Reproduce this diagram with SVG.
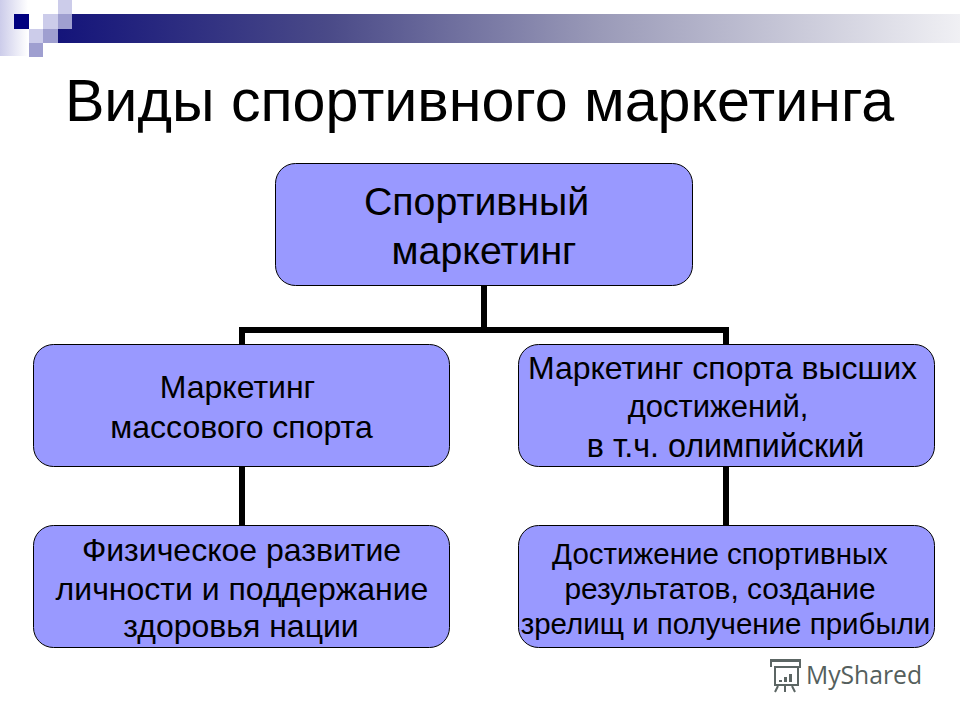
<svg xmlns="http://www.w3.org/2000/svg" width="960" height="720" viewBox="0 0 960 720">
<style>
text{font-family:"Liberation Sans",Arial,sans-serif;fill:#000;text-anchor:middle}
.box{fill:#9999ff;stroke:#000;stroke-width:1}
.line{fill:none;stroke:#000;stroke-width:6}
.l{font-size:39.3px}
.t{font-size:32px}
.m{font-size:29.5px}
.logo{fill:none;stroke:#5c6664;stroke-width:2}
</style>
<defs>
<linearGradient id="bar"><stop offset="0" stop-color="#14147a"/><stop offset=".3" stop-color="#4a4a88"/><stop offset=".6" stop-color="#9a9ab8"/><stop offset="1" stop-color="#f0f0f4"/></linearGradient>
<linearGradient id="side"><stop offset="0" stop-color="#ccccea"/><stop offset="1" stop-color="#fff"/></linearGradient>
</defs>
<rect width="960" height="720" fill="#fff"/>
<g id="decor">
<rect x="58" y="14" width="902" height="29" fill="url(#bar)"/>
<rect x="0" y="0" width="28" height="56" fill="url(#side)"/>
<rect x="14" y="14" width="15" height="15" fill="#00007f"/>
<rect x="29" y="14" width="14" height="15" fill="#fff"/>
<rect x="58" y="0" width="14" height="14" fill="#ccccea"/>
<rect x="43" y="14" width="15" height="15" fill="#ccccea"/>
<rect x="58" y="14" width="14" height="15" fill="#9f9fd0"/>
<rect x="29" y="29" width="14" height="14" fill="#ccccea"/>
<rect x="43" y="29" width="15" height="14" fill="#9f9fd0"/>
<rect x="29" y="43" width="14" height="14" fill="#9f9fd0"/>
</g>
<text id="title" x="479.500" y="121" font-size="59.200">Виды спортивного маркетинга</text>
<g id="connectors">
<path class="line" d="M484 285V330M242 345V330H726V345"/>
<path class="line" d="M242 466V525M726 466V525"/>
</g>
<g id="root">
<rect class="box" x="275.500" y="163.500" width="417" height="122" rx="20"/>
<text class="l" x="476.500" y="215">Спортивный</text>
<text class="l" x="484" y="264">маркетинг</text>
</g>
<g id="mass">
<rect class="box" x="33.500" y="344.500" width="416" height="122" rx="20"/>
<text class="t" x="237.500" y="398">Маркетинг</text>
<text class="t" x="241.500" y="438">массового спорта</text>
</g>
<g id="elite">
<rect class="box" x="518.500" y="344.500" width="416" height="122" rx="20"/>
<text class="t" x="722.500" y="379">Маркетинг спорта высших</text>
<text class="t" x="718" y="417" style="font-size:31px">достижений,</text>
<text class="t" x="725.500" y="457" style="font-size:32.300px">в т.ч. олимпийский</text>
</g>
<g id="health">
<rect class="box" x="33.500" y="525.500" width="416" height="122" rx="20"/>
<text class="t" x="241.500" y="561">Физическое развитие</text>
<text class="t" x="242" y="600">личности и поддержание</text>
<text class="t" x="241" y="637">здоровья нации</text>
</g>
<g id="results">
<rect class="box" x="518.500" y="525.500" width="416" height="122" rx="20"/>
<text class="m" x="720" y="564">Достижение спортивных</text>
<text class="m" x="720" y="599" style="font-size:29.900px">результатов, создание</text>
<text class="m" x="725.500" y="634">зрелищ и получение прибыли</text>
</g>
<g id="watermark">
<path class="logo" d="M772 661H800M771 667V660H800V667H775V685H798V667M778 686L775 692M785 686V692M792 686L795 692"/>
<path d="M779 680h3v2h-3zM784 677h3v5h-3zM789 674h3v8h-3z" fill="#5c6664"/>
<text x="864" y="684" font-size="24.700" style="fill:#555f5d;font-family:'Open Sans',sans-serif">MyShared</text>
</g>
</svg>
